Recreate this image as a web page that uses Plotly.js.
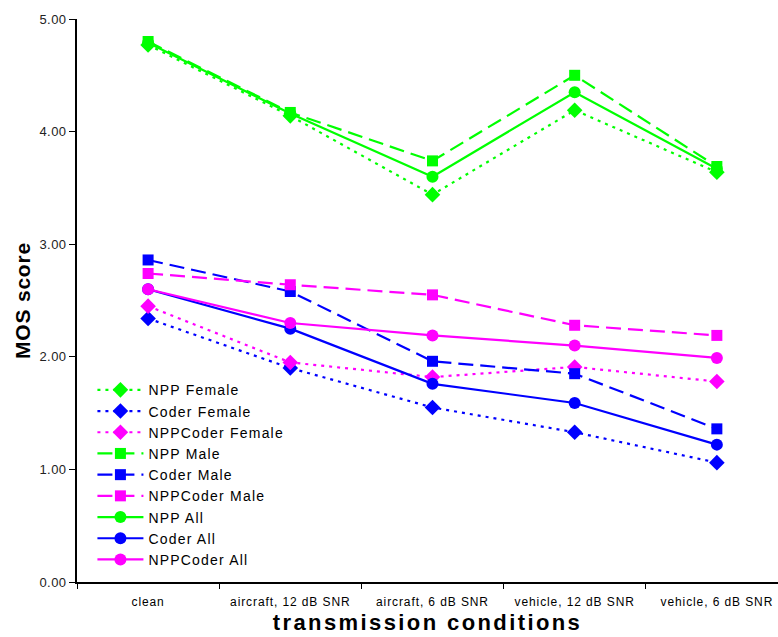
<!DOCTYPE html>
<html>
<head>
<meta charset="utf-8">
<script src="https://cdn.plot.ly/plotly-3.0.1.min.js"></script>
<style>
html,body{margin:0;padding:0;background:#fff;}
#chart{width:778px;height:637px;}
#chart .xtick text{letter-spacing:0.9px;}
#chart .ytick text{letter-spacing:0.4px;}
#chart text.xtitle{letter-spacing:2.4px;}
#chart text.ytitle{letter-spacing:0.8px;}
#chart text.legendtext{letter-spacing:1.2px;}
#chart g.legend, #chart g.legend *{clip-path:none !important;}
</style>
</head>
<body>
<div id="chart"></div>
<script>
const conditions = ["clean", "aircraft, 12 dB SNR", "aircraft, 6 dB SNR", "vehicle, 12 dB SNR", "vehicle, 6 dB SNR"];

const nppFemale      = [4.77, 4.14, 3.44, 4.19, 3.64];
const coderFemale    = [2.34, 1.90, 1.55, 1.33, 1.06];
const nppCoderFemale = [2.45, 1.95, 1.82, 1.91, 1.78];
const nppMale        = [4.80, 4.17, 3.74, 4.50, 3.69];
const coderMale      = [2.86, 2.58, 1.96, 1.85, 1.36];
const nppCoderMale   = [2.74, 2.64, 2.55, 2.28, 2.19];
const nppAll         = [4.79, 4.16, 3.60, 4.35, 3.67];
const coderAll       = [2.60, 2.25, 1.76, 1.59, 1.22];
const nppCoderAll    = [2.60, 2.30, 2.19, 2.10, 1.99];

const yTicksDark = [3, 4, 5];
const yTicksGray = [1, 2];
const yTicksAll  = [0, 1, 2, 3, 4, 5];

const GREEN = "#00FF00", BLUE = "#0000FF", MAGENTA = "#FF00FF";
const DOT = "3px,5px", DASH = "15px,7px";

function tr(name, y, color, dash, symbol, size) {
  return {
    type: "scatter", mode: "lines+markers", name: name,
    x: conditions, y: y,
    line: {color: color, width: 2.2, dash: dash},
    marker: {color: color, symbol: symbol, size: size, line: {width: 0}}
  };
}

const data = [
  tr("NPP Female", nppFemale, GREEN, DOT, "diamond", 12),
  tr("Coder Female", coderFemale, BLUE, DOT, "diamond", 12),
  tr("NPPCoder Female", nppCoderFemale, MAGENTA, DOT, "diamond", 12),
  tr("NPP Male", nppMale, GREEN, DASH, "square", 11),
  tr("Coder Male", coderMale, BLUE, DASH, "square", 11),
  tr("NPPCoder Male", nppCoderMale, MAGENTA, DASH, "square", 11),
  tr("NPP All", nppAll, GREEN, "solid", "circle", 12),
  tr("Coder All", coderAll, BLUE, "solid", "circle", 12),
  tr("NPPCoder All", nppCoderAll, MAGENTA, "solid", "circle", 12)
];

const layout = {
  width: 778, height: 637,
  margin: {l: 77, r: 0, t: 19, b: 55},
  paper_bgcolor: "#fff", plot_bgcolor: "#fff",
  font: {family: "Liberation Sans, Arial, sans-serif", color: "#000"},
  showlegend: true,
  legend: {
    x: 0.022, y: 0.369, xanchor: "left", yanchor: "top",
    bgcolor: "#fff", borderwidth: 0,
    font: {size: 14, color: "#000"},
    itemwidth: 46, tracegroupgap: 0
  },
  xaxis: {
    type: "category", range: [-0.5, 4.43],
    tickson: "boundaries", ticks: "outside", ticklen: 5, tickcolor: "#000",
    ticklabelstandoff: 8,
    showgrid: false, zeroline: false,
    showline: true, linecolor: "#000", linewidth: 2,
    tickfont: {size: 12, color: "#000"},
    title: {text: "transmission conditions", font: {size: 22, color: "#000", weight: "bold"}, standoff: 6}
  },
  yaxis: {
    range: [0, 5], tickmode: "array", tickvals: yTicksAll, tickformat: ".2f",
    ticks: "outside", ticklen: 6, tickcolor: "#000",
    showgrid: false, zeroline: false,
    showline: true, linecolor: "#000", linewidth: 2,
    tickfont: {size: 13, color: "#222"},
    title: {text: "MOS score", font: {size: 21, color: "#000", weight: "bold"}, standoff: 5}
  },
  yaxis2: {
    overlaying: "y", range: [0, 5], tickmode: "array", tickvals: yTicksDark,
    showticklabels: false, ticks: "", showgrid: true, gridcolor: "#000", gridwidth: 1.5,
    zeroline: false, showline: false
  },
  yaxis3: {
    overlaying: "y", range: [0, 5], tickmode: "array", tickvals: yTicksGray,
    showticklabels: false, ticks: "", showgrid: true, gridcolor: "#808080", gridwidth: 1.5,
    zeroline: false, showline: false
  }
};

Plotly.newPlot("chart", data, layout, {displayModeBar: false, staticPlot: true});
</script>
</body>
</html>
